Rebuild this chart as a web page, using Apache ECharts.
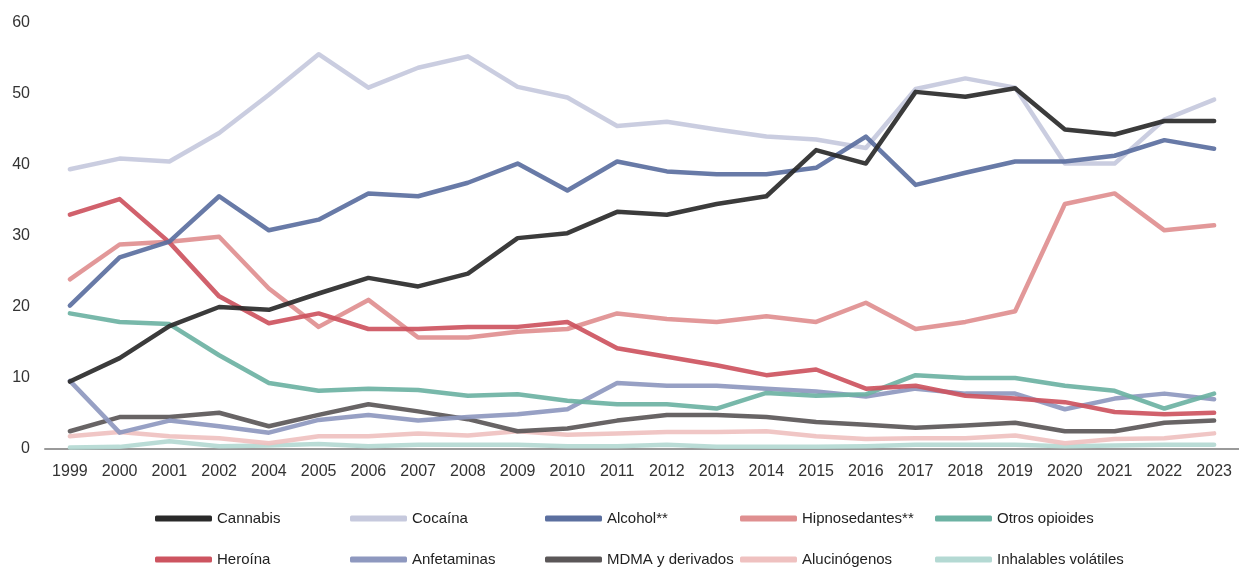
<!DOCTYPE html>
<html><head><meta charset="utf-8">
<script src="https://cdn.jsdelivr.net/npm/echarts@6/dist/echarts.min.js"></script>
<style>html,body{margin:0;padding:0;background:#fff}#c{width:1239px;height:568px}</style>
</head><body><div id="c"></div>
<script>
const years = ['1999','2000','2001','2002','2004','2005','2006','2007','2008','2009','2010','2011','2012','2013','2014','2015','2016','2017','2018','2019','2020','2021','2022','2023'];
const yTicks = [0,10,20,30,40,50,60];
const cannabis = [9.5,12.8,17.3,20.0,19.6,21.9,24.1,22.9,24.7,29.7,30.4,33.4,33.0,34.5,35.6,42.1,40.2,50.3,49.6,50.8,45.0,44.3,46.2,46.2];
const cocaina = [39.4,40.9,40.5,44.5,49.9,55.6,50.9,53.7,55.3,51.0,49.5,45.5,46.1,45.0,44.0,43.6,42.4,50.7,52.2,50.9,40.2,40.2,46.4,49.2];
const alcohol = [20.2,27.0,29.2,35.6,30.8,32.3,36.0,35.6,37.5,40.2,36.4,40.5,39.1,38.7,38.7,39.6,44.0,37.2,38.9,40.5,40.5,41.3,43.5,42.3];
const hipnosedantes = [23.9,28.8,29.2,29.9,22.6,17.2,21.0,15.7,15.7,16.5,16.9,19.1,18.3,17.9,18.7,17.9,20.6,16.9,17.9,19.4,34.5,36.0,30.8,31.5];
const otrosOpioides = [19.1,17.9,17.6,13.2,9.3,8.2,8.5,8.3,7.5,7.7,6.8,6.3,6.3,5.7,7.9,7.5,7.7,10.4,10.0,10.0,8.9,8.2,5.7,7.8];
const heroina = [33.0,35.2,29.1,21.5,17.7,19.1,16.9,16.9,17.2,17.2,17.9,14.2,13.0,11.8,10.4,11.2,8.5,8.9,7.5,7.1,6.6,5.2,4.9,5.1];
const anfetaminas = [9.6,2.3,4.0,3.2,2.3,4.1,4.8,4.0,4.5,4.9,5.6,9.3,8.9,8.9,8.5,8.1,7.4,8.5,7.8,7.8,5.6,7.1,7.8,7.0];
const mdma = [2.5,4.5,4.5,5.1,3.2,4.8,6.3,5.3,4.2,2.5,2.9,4.0,4.8,4.8,4.5,3.8,3.4,3.0,3.3,3.7,2.5,2.5,3.7,4.0];
const alucinogenos = [1.8,2.4,1.8,1.5,0.8,1.8,1.8,2.2,1.9,2.5,2.0,2.2,2.4,2.4,2.5,1.8,1.4,1.5,1.5,1.9,0.8,1.4,1.5,2.2];
const inhalables = [0.2,0.3,1.1,0.4,0.5,0.7,0.4,0.6,0.6,0.6,0.4,0.4,0.6,0.3,0.3,0.3,0.4,0.6,0.6,0.6,0.4,0.5,0.6,0.6];

const names = ['Cannabis','Cocaína','Alcohol**','Hipnosedantes**','Otros opioides','Heroína','Anfetaminas','MDMA y derivados','Alucinógenos','Inhalables volátiles'];
const values = [cannabis,cocaina,alcohol,hipnosedantes,otrosOpioides,heroina,anfetaminas,mdma,alucinogenos,inhalables];
const colors = ['#2a2a2a','#c6c9dd','#5b6f9f','#df8f90','#6cb2a3','#cd5460','#8e98bf','#5b5758','#efc1c0','#b4d9d3'];
const zs = [20,5,12,8,9,10,7,6,4,3];

const legendLeft = [155,350,545,740,935];
const legendTop = [511,552];

const series = names.map((n,i)=>({
  name:n, type:'line', data:values[i], symbol:'none', smooth:false, z:zs[i],
  itemStyle:{color:colors[i]},
  lineStyle:{color:colors[i], width:4.5, opacity:0.92, cap:'round', join:'round'},
  emphasis:{disabled:true}
}));

const legends = names.map((n,i)=>({
  data:[n], left:legendLeft[i%5], top:legendTop[Math.floor(i/5)], padding:0,
  icon:'roundRect', itemWidth:57, itemHeight:6, itemGap:0,
  textStyle:{fontFamily:'Liberation Sans, Arial, sans-serif', fontSize:15, color:'#222'},
  selectedMode:false
}));

const chart = echarts.init(document.getElementById('c'), null, {renderer:'canvas'});
chart.setOption({
  animation:false,
  backgroundColor:'#fff',
  grid:{left:45, right:-5, top:23, bottom:119, containLabel:false},
  xAxis:{type:'category', data:years, boundaryGap:true,
    axisLine:{lineStyle:{color:'#9a9a9a', width:2}},
    axisTick:{show:false},
    axisLabel:{margin:15, fontSize:16, color:'#333', fontFamily:'Liberation Sans, Arial, sans-serif', interval:0}},
  yAxis:{type:'value', min:yTicks[0], max:yTicks[yTicks.length-1], interval:10,
    splitLine:{show:false}, axisLine:{show:false}, axisTick:{show:false},
    axisLabel:{margin:15, fontSize:16, color:'#333', fontFamily:'Liberation Sans, Arial, sans-serif'}},
  legend:legends,
  series:series
});
</script></body></html>
